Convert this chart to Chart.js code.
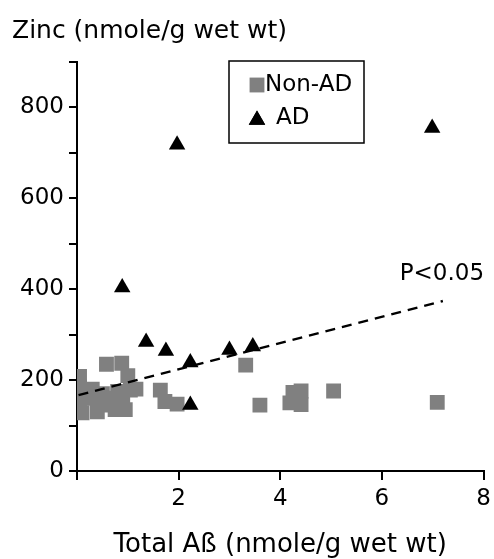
<!DOCTYPE html>
<html>
<head>
<meta charset="utf-8">
<script src="https://cdn.jsdelivr.net/npm/chart.js@4.4.1/dist/chart.umd.min.js"></script>
<style>
  html, body { margin: 0; padding: 0; background: #fff; }
</style>
</head>
<body>
<canvas id="zincChart" width="494" height="559"></canvas>
<script>
// Non-AD cases (gray squares)
const nonAdX = [0.05, 0.05, 0.08, 0.05, 0.1, 0.3, 0.35, 0.4, 0.45, 0.5, 0.58, 0.62, 0.7, 0.75, 0.8,
                0.88, 0.9, 0.95, 1.0, 1.05, 1.16, 1.64, 1.73, 1.97, 3.32, 3.6, 4.19, 4.25, 4.41, 4.41,
                5.05, 7.09];
const nonAdY = [208, 185, 160, 140, 128, 180, 160, 130, 150, 170, 235, 145, 160, 135, 175,
                237, 150, 135, 210, 178, 180, 178, 153, 147, 233, 145, 150, 173, 176, 146,
                176, 151];

// AD cases (black triangles)
const adX = [0.89, 1.36, 1.75, 1.97, 2.23, 2.23, 3.0, 3.46, 6.99];
const adY = [404, 284, 264, 718, 239, 145, 266, 274, 755];

// regression line (P<0.05)
const fitX = [0.03, 7.2];
const fitY = [167, 374];
const fitLabel = 'P<0.05';

const xTickValues = [0, 2, 4, 6, 8];
const yTickValues = [0, 100, 200, 300, 400, 500, 600, 700, 800, 900];

const FONT = '"DejaVu Sans", Verdana, sans-serif';

const toPoints = (xs, ys) => xs.map((x, i) => ({ x: x, y: ys[i] }));

// Legend box and P-value label drawn inside the plot area
const overlayPlugin = {
    id: 'overlay',
    afterDatasetsDraw: function (chart) {
        const ctx = chart.ctx;
        const area = chart.chartArea;
        const xs = chart.scales.x;
        const ys = chart.scales.y;
        ctx.save();

        // legend box
        const bx = area.left + 152, by = area.top - 1, bw = 135, bh = 82;
        ctx.fillStyle = '#fff';
        ctx.fillRect(bx, by, bw, bh);
        ctx.strokeStyle = '#000';
        ctx.lineWidth = 1.5;
        ctx.strokeRect(bx, by, bw, bh);

        ctx.font = '23px ' + FONT;
        ctx.textBaseline = 'middle';
        ctx.textAlign = 'left';
        const items = [chart.data.datasets[0], chart.data.datasets[1]];
        items.forEach(function (ds, i) {
            const cy = by + 24 + i * 33;
            Chart.helpers.drawPoint(ctx, {
                pointStyle: ds.pointStyle,
                radius: ds.pointRadius,
                borderWidth: 0,
                rotation: 0
            }, bx + 28, cy + (i === 1 ? 2 : 0));
            ctx.fillStyle = ds.backgroundColor;
            ctx.fill();
            ctx.fillStyle = '#000';
            ctx.fillText(ds.label, bx + (i === 0 ? 36 : 47), cy);
        });

        // P value
        ctx.font = '23px ' + FONT;
        ctx.fillStyle = '#000';
        ctx.textAlign = 'left';
        ctx.textBaseline = 'middle';
        ctx.fillText(fitLabel, xs.getPixelForValue(6.35), ys.getPixelForValue(433));
        ctx.restore();
    }
};

const ctx = document.getElementById('zincChart').getContext('2d');
new Chart(ctx, {
    type: 'scatter',
    data: {
        datasets: [{
            label: 'Non-AD',
            data: toPoints(nonAdX, nonAdY),
            pointStyle: 'rect',
            pointRadius: 10.5,
            backgroundColor: '#808080',
            borderColor: '#808080',
            borderWidth: 0,
            order: 3,
        }, {
            label: 'AD',
            data: toPoints(adX, adY),
            pointStyle: 'triangle',
            pointRadius: 9.5,
            backgroundColor: '#000',
            borderColor: '#000',
            borderWidth: 0,
            order: 2,
        }, {
            label: 'fit',
            type: 'line',
            data: toPoints(fitX, fitY),
            borderColor: '#000',
            borderWidth: 2.5,
            borderDash: [10, 7],
            pointRadius: 0,
            fill: false,
            order: 1,
        }],
    },
    options: {
        responsive: false,
        animation: false,
        layout: { padding: { left: 12, right: 7, top: 0, bottom: 0 } },
        plugins: {
            legend: { display: false },
            tooltip: { enabled: false },
            title: {
                display: true,
                text: 'Zinc (nmole/g wet wt)',
                align: 'start',
                color: '#000',
                font: { family: FONT, size: 25, weight: 'normal' },
                padding: { top: 16, bottom: 16 },
            },
        },
        scales: {
            x: {
                type: 'linear',
                min: 0,
                max: 8,
                afterBuildTicks: function (scale) {
                    scale.ticks = xTickValues.map(v => ({ value: v }));
                },
                afterFit: function (scale) {
                    scale.height = 88;
                    scale.paddingLeft = 0;
                    scale.paddingRight = 0;
                },
                ticks: {
                    color: '#000',
                    font: { family: FONT, size: 23 },
                    padding: 5,
                    callback: v => (v === 0 ? '' : v),
                },
                border: { display: true, color: '#000', width: 2 },
                grid: {
                    display: true,
                    drawOnChartArea: false,
                    drawTicks: true,
                    tickLength: 9,
                    color: '#000',
                    lineWidth: 2,
                },
                title: {
                    display: true,
                    text: 'Total Aß (nmole/g wet wt)',
                    color: '#000',
                    font: { family: FONT, size: 26 },
                    padding: { top: 0, bottom: -2 },
                },
            },
            y: {
                type: 'linear',
                min: 0,
                max: 900,
                afterBuildTicks: function (scale) {
                    scale.ticks = yTickValues.map(v => ({ value: v }));
                },
                afterFit: function (scale) {
                    scale.width = 65;
                    scale.paddingTop = 0;
                    scale.paddingBottom = 0;
                },
                ticks: {
                    color: '#000',
                    font: { family: FONT, size: 23 },
                    padding: 5,
                    callback: v => (v % 200 === 0 ? v : ''),
                },
                border: { display: true, color: '#000', width: 2 },
                grid: {
                    display: true,
                    drawOnChartArea: false,
                    drawTicks: true,
                    tickLength: 8,
                    color: '#000',
                    lineWidth: 2,
                },
            },
        },
    },
    plugins: [overlayPlugin],
});
</script>
</body>
</html>
